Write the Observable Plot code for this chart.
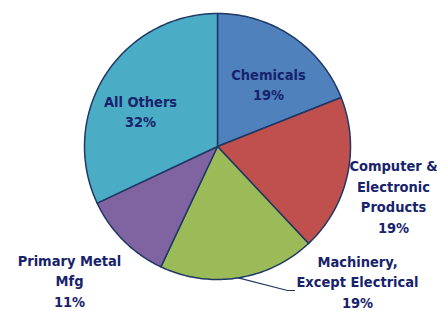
<!DOCTYPE html>
<html>
<head>
<meta charset="utf-8">
<script src="https://cdn.jsdelivr.net/npm/d3@7"></script>
<script src="https://cdn.jsdelivr.net/npm/@observablehq/plot@0.6"></script>
<style>
  html, body { margin: 0; padding: 0; background: #ffffff; }
  #chart svg { display: block; }
</style>
</head>
<body>
<div id="chart"></div>
<script>
// ---- data ----
const categories = ["Chemicals", "Computer & Electronic Products", "Machinery, Except Electrical", "Primary Metal Mfg", "All Others"];
const values = [19, 19, 19, 11, 32];
const labelNames = ["Chemicals", "Computer &\nElectronic\nProducts", "Machinery,\nExcept Electrical", "Primary Metal\nMfg", "All Others"];
const colors = ["#4F81BD", "#C0504D", "#9BBB59", "#8064A2", "#4BACC6"];

// ---- layout (pixels) ----
const W = 443, H = 311;
const CX = 217, CY = 146, R = 133;
// label block centres relative to pie centre, in pixels
const labelOffsets = [[51, -63], [176, 49], [140, 134], [-148, 133], [-77, -36]];

const pie = d3.pie().sort(null).startAngle(0).endAngle(2 * Math.PI)(values);

const polys = [];
pie.forEach((s, i) => {
  polys.push({cat: categories[i], x: 0, y: 0});
  const n = Math.max(2, Math.ceil((s.endAngle - s.startAngle) / (Math.PI / 180)));
  for (let k = 0; k <= n; k++) {
    const a = s.startAngle + (s.endAngle - s.startAngle) * k / n;
    polys.push({cat: categories[i], x: Math.sin(a), y: Math.cos(a)});
  }
});

const labels = pie.map((s, i) => ({
  text: labelNames[i] + "\n" + values[i] + "%",
  x: labelOffsets[i][0] / R,
  y: -labelOffsets[i][1] / R
}));

// leader line for Machinery slice
const mi = 2;
const mid = (pie[mi].startAngle + pie[mi].endAngle) / 2;
const leader = [
  {x: Math.sin(mid), y: Math.cos(mid)},
  {x: (287 - CX) / R, y: -(290 - CY) / R},
  {x: (294 - CX) / R, y: -(290 - CY) / R}
];

const chart = Plot.plot({
  width: W,
  height: H,
  margin: 0,
  x: {domain: [-CX / R, (W - CX) / R], axis: null},
  y: {domain: [-(H - CY) / R, CY / R], axis: null},
  color: {domain: categories, range: colors},
  style: {background: "#ffffff"},
  marks: [
    Plot.line(polys, {x: "x", y: "y", z: "cat", fill: "cat", stroke: "#1F3864", strokeWidth: 1.5, curve: "linear-closed", strokeLinejoin: "round"}),
    Plot.line(leader, {x: "x", y: "y", stroke: "#1F3864", strokeWidth: 1.2}),
    Plot.text(labels, {
      x: "x", y: "y", text: "text",
      fill: "#17236B",
      fontSize: 14.5,
      fontWeight: "bold",
      fontFamily: "'DejaVu Sans Condensed', sans-serif",
      lineHeight: 1.42,
      textAnchor: "middle"
    })
  ]
});
document.getElementById("chart").appendChild(chart);
</script>
</body>
</html>
